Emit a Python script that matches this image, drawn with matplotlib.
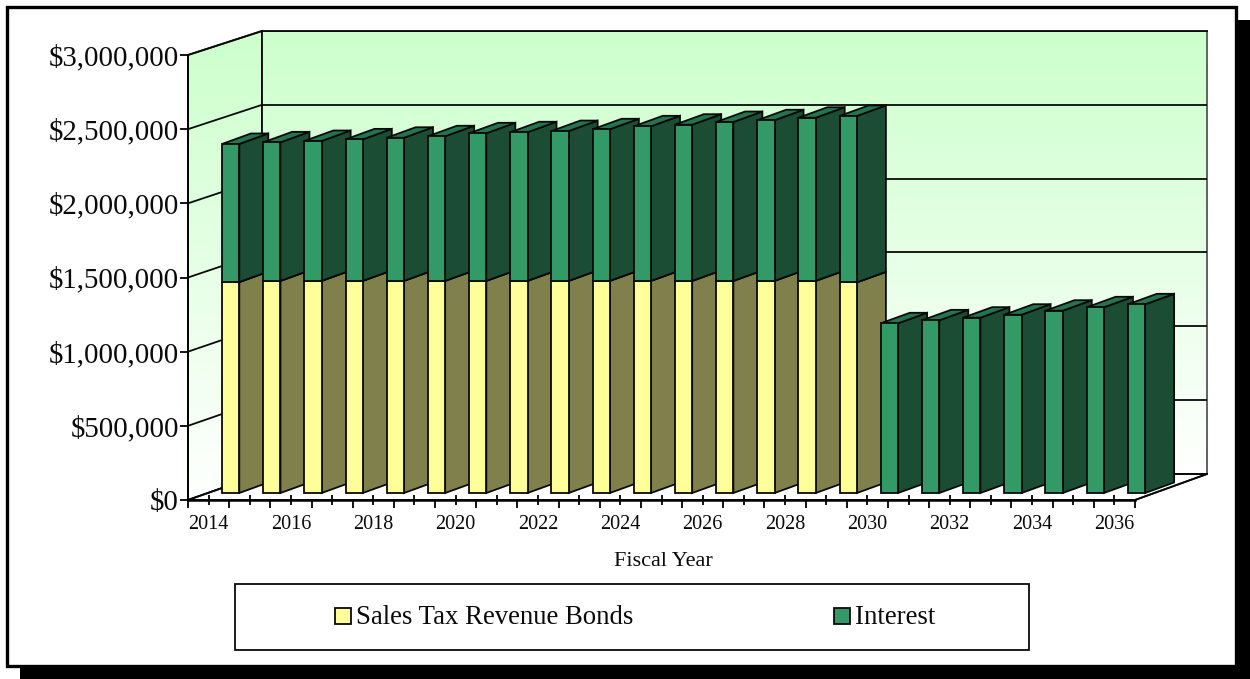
import numpy as np
import matplotlib
matplotlib.use('Agg')
import matplotlib.pyplot as plt
from matplotlib.patches import Rectangle, Polygon, ConnectionPatch
from matplotlib.ticker import FuncFormatter

plt.rcParams['font.family'] = ['Liberation Serif', 'DejaVu Serif']

years = list(range(2014, 2037))
bonds = [1422000, 1430000, 1430000, 1430000, 1430000, 1430000, 1430000, 1430000,
         1430000, 1430000, 1430000, 1430000, 1430000, 1430000, 1430000, 1420000,
         0, 0, 0, 0, 0, 0, 0]
interest = [931000, 934000, 943000, 954000, 965000, 975000, 995000, 1002000,
            1010000, 1022000, 1042000, 1053000, 1071000, 1083000, 1100000, 1122000,
            1144000, 1164000, 1182000, 1202000, 1229000, 1252000, 1272000]
value_ticks = [0, 500000, 1000000, 1500000, 2000000, 2500000, 3000000]
series_names = ['Sales Tax Revenue Bonds', 'Interest']

W, H = 1250, 679
# plot planes in pixels: left, top, right, bottom
FRONT = (188, 55, 1135, 500)
BACK = (262, 31, 1207, 474)

YELLOW = ('#FFFF99', '#80804C', '#BFBF73')
GREEN = ('#339966', '#1A4D33', '#267350')
INK = '#0A0A0A'
LW = 1.3


def plane_axes(box, zorder):
    l, t, r, b = box
    a = fig.add_axes([l / W, 1 - b / H, (r - l) / W, (b - t) / H], zorder=zorder)
    a.set_xlim(0, len(years))
    a.set_ylim(0, 3000000)
    return a


def gradient():
    return np.linspace(0, 1, 256)[:, None]


fig = plt.figure(figsize=(W / 100, H / 100), dpi=100, facecolor='white')
cmap = matplotlib.colors.LinearSegmentedColormap.from_list('wall', ['#CCFFCC', '#FFFFFF'])

# page frame, drop shadow, side wall, floor and legend live in pixel coordinates
base = fig.add_axes([0, 0, 1, 1], zorder=0)
base.set_xlim(0, W)
base.set_ylim(H, 0)
base.axis('off')
base.add_patch(Rectangle((20, 20), W - 20, H - 20, fc='black', ec='none'))
base.add_patch(Rectangle((7, 6.5), 1229, 659, fc='white', ec='black', lw=2.4))

side_wall = Polygon([(FRONT[0], FRONT[1]), (BACK[0], BACK[1]), (BACK[0], BACK[3]), (FRONT[0], FRONT[3])],
                    fc='none', ec=INK, lw=LW, zorder=2)
base.add_patch(side_wall)
im = base.imshow(gradient(), cmap=cmap, aspect='auto', vmin=0, vmax=1, zorder=1.5,
                 extent=(FRONT[0], BACK[0], FRONT[3], BACK[1]))
im.set_clip_path(side_wall)
base.set_xlim(0, W)
base.set_ylim(H, 0)
base.add_patch(Polygon([(FRONT[0], FRONT[3]), (FRONT[2], FRONT[3]), (BACK[2], BACK[3]), (BACK[0], BACK[3])],
                       fc='white', ec=INK, lw=LW, zorder=2))

# legend
base.add_patch(Rectangle((235, 584), 794, 66, fc='white', ec=INK, lw=LW))
for name, colors, box_x in zip(series_names, (YELLOW, GREEN), (334.5, 833.5)):
    base.add_patch(Rectangle((box_x, 607.5), 16.5, 16.5, fc=colors[0], ec=INK, lw=LW))
    base.text(box_x + 22, 623.5, name, fontsize=19.3, color=INK, ha='left', va='baseline')

# back wall with its gridlines
back = plane_axes(BACK, 1)
back.imshow(gradient(), cmap=cmap, aspect='auto', vmin=0, vmax=1, extent=(0, len(years), 0, 3000000))
back.set_yticks(value_ticks)
back.set_xticks([])
back.grid(axis='y', color=INK, lw=LW)
back.tick_params(left=False, labelleft=False)
back.set_axisbelow(False)
for s in back.spines.values():
    s.set_linewidth(LW)
    s.set_color(INK)
back.spines['right'].set_color('#555555')

# front plane holds the axes and the bars
ax = plane_axes(FRONT, 2)
ax.patch.set_visible(False)
ax.spines['top'].set_visible(False)
ax.spines['right'].set_visible(False)
ax.spines['left'].set_linewidth(LW)
ax.spines['bottom'].set_linewidth(1.8)
ax.set_yticks(value_ticks)
ax.yaxis.set_major_formatter(FuncFormatter(lambda v, pos: f'${v:,.0f}'))
ax.tick_params(axis='y', length=6, width=LW, pad=0.5, labelsize=20.8, labelcolor=INK)

ax.set_xticks(np.arange(len(years) + 1))
ax.set_xticklabels([])
ax.tick_params(axis='x', which='major', direction='out', length=5.4, width=LW)
ax.set_xticks(np.arange(len(years)) + 0.5, minor=True)
ax.set_xticklabels([str(y) if (y - years[0]) % 2 == 0 else '' for y in years], minor=True)
ax.tick_params(axis='x', which='minor', direction='inout', length=7.2, width=LW, pad=7,
               labelsize=14.5, labelcolor=INK)
ax.set_xlabel('Fiscal Year', fontsize=16, color=INK, labelpad=13, x=0.5015)

# receding lines from the front axis to the back wall
for v in value_ticks:
    fig.add_artist(ConnectionPatch((0, v), (0, v), coordsA=ax.transData, coordsB=back.transData,
                                   color=INK, lw=LW, zorder=1.5))
fig.add_artist(ConnectionPatch((len(years), 0), (len(years), 0), coordsA=ax.transData, coordsB=back.transData,
                               color=INK, lw=LW, zorder=1.5))

# bar geometry: offsets of the bar row into the floor, in axis units
px_x = (FRONT[2] - FRONT[0]) / len(years)
px_y = (FRONT[3] - FRONT[1]) / 3000000
row_dx, row_dy = 20 / px_x, 7 / px_y
deep_dx, deep_dy = 29 / px_x, 10.5 / px_y
bar_left, bar_w = 0.34, 0.42


def draw_segment(i, v0, v1, colors):
    l = i + bar_left + row_dx
    r = l + bar_w
    y0, y1 = v0 + row_dy, v1 + row_dy
    style = dict(ec=INK, lw=LW, joinstyle='miter', clip_on=False, zorder=3 + i * 0.01)
    ax.add_patch(Polygon([(r, y0), (r + deep_dx, y0 + deep_dy), (r + deep_dx, y1 + deep_dy), (r, y1)],
                         fc=colors[1], **style))
    ax.add_patch(Polygon([(l, y1), (r, y1), (r + deep_dx, y1 + deep_dy), (l + deep_dx, y1 + deep_dy)],
                         fc=colors[2], **style))
    ax.add_patch(Polygon([(l, y0), (r, y0), (r, y1), (l, y1)], fc=colors[0], **style))


for i in range(len(years)):
    if bonds[i] > 0:
        draw_segment(i, 0, bonds[i], YELLOW)
    draw_segment(i, bonds[i], bonds[i] + interest[i], GREEN)

fig.savefig('out.png', dpi=100)
